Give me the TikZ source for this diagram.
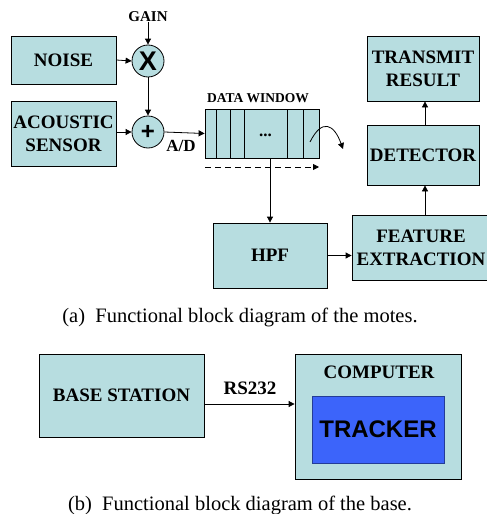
\documentclass[tikz,border=0pt]{standalone}
\usepackage{fontspec}
\setmainfont{Liberation Serif}
\newfontfamily\arialfont{Liberation Sans}
\usetikzlibrary{arrows.meta}
\definecolor{boxfill}{RGB}{183,221,224}
\definecolor{trackfill}{RGB}{60,100,250}
\tikzset{
  blk/.style={draw=black, line width=0.8pt, fill=boxfill, align=center, inner sep=0pt,
     font=\fontsize{19}{23}\selectfont\bfseries},
  opc/.style={circle, draw=black, line width=0.8pt, fill=boxfill, minimum size=32pt, inner sep=0pt,
     font=\fontsize{27}{27}\selectfont\bfseries\arialfont},
  arr/.style={-{Triangle[length=6pt,width=6pt]}, line width=0.8pt},
  lbl/.style={inner sep=0pt, font=\fontsize{19}{19}\selectfont\bfseries},
  captext/.style={inner sep=0pt, font=\fontsize{20.5}{21}\selectfont}
}
\begin{document}
\begin{tikzpicture}[x=1pt,y=-1pt]
\useasboundingbox (0,0) rectangle (487,514);
% part (a)
\node[blk, minimum width=105pt, minimum height=48pt] (noise) at (63.5,60) {NOISE};
\node[blk, minimum width=105pt, minimum height=65pt] (sensor) at (63.5,133.5) {ACOUSTIC\\SENSOR};
\node[opc] (mul) at (148,61) {X};
\node[opc, font=\fontsize{24}{24}\selectfont\bfseries\arialfont] (add) at (148,132) {+};
\node[lbl, font=\fontsize{15}{15}\selectfont\bfseries] (gain) at (148,17) {GAIN};
\node[draw=black, line width=0.8pt, fill=boxfill, minimum width=114pt, minimum height=49pt, inner sep=0pt] (win) at (262,133.5) {};
\foreach \xx in {216,230,244,287,303} \draw[line width=0.8pt] (\xx,109) -- (\xx,158);
\node[inner sep=0pt, font=\fontsize{17}{17}\selectfont\bfseries] (dots) at (265.5,135) {...};
\node[inner sep=0pt, font=\fontsize{13.5}{14}\selectfont\bfseries] (dwl) at (258,98) {DATA WINDOW};
\node[lbl, font=\fontsize{17}{17}\selectfont\bfseries] (ad) at (181,146) {A/D};
\coordinate (dstart) at (205,167);
\coordinate (dend) at (319,167);
\coordinate (cstart) at (310,142);
\coordinate (cend) at (343,149);
\node[blk, minimum width=114pt, minimum height=65pt] (hpf) at (270,255.5) {HPF};
\node[blk, minimum width=138pt, minimum height=65pt] (feat) at (421,247.5) {FEATURE\\EXTRACTION};
\node[blk, minimum width=112pt, minimum height=60pt] (det) at (423,155) {DETECTOR};
\node[blk, minimum width=112pt, minimum height=65pt] (tx) at (423,68.5) {TRANSMIT\\RESULT};
\draw[arr] (gain.south) -- (mul.north);
\draw[arr] (noise.east) -- (mul.west);
\draw[arr] (mul.south) -- (add.north);
\draw[arr] (sensor.east |- add.west) -- (add.west);
\draw[arr] (add.east) -- (win.west);
\draw[arr, dash pattern=on 6pt off 4pt] (dstart) -- (dend);
\draw[arr] (cstart) .. controls (322,118) and (334,124) .. (cend);
\draw[arr] (win.south -| 270,0) -- (hpf.north -| 270,0);
\draw[arr] (feat.north -| 425,0) -- (det.south -| 425,0);
\draw[arr] (det.north -| 425,0) -- (tx.south -| 425,0);
\draw[arr] (hpf.east) -- (feat.west |- hpf.east);
\node[captext] (capa) at (240,317) {(a)\ \ Functional block diagram of the motes.};
% part (b)
\node[blk, minimum width=165pt, minimum height=83pt] (base) at (121.5,395.5) {BASE STATION};
\node[draw=black, line width=0.8pt, fill=boxfill, minimum width=166pt, minimum height=125pt, inner sep=0pt] (comp) at (378,416.5) {};
\node[lbl] (compl) at (379,372) {COMPUTER};
\node[draw=trackfill!60!black, line width=0.6pt, fill=trackfill, minimum width=132pt, minimum height=67pt, inner sep=0pt,
  font=\fontsize{24}{24}\selectfont\bfseries\arialfont\color{black}] (trk) at (378,429.5) {TRACKER};
\node[lbl] (rs) at (250,388) {RS232};
\coordinate (bout) at ([yshift=-8.5pt]base.east);
\draw[arr] (bout) -- (comp.west |- bout);
\node[captext] (capb) at (240,505) {(b)\ \ Functional block diagram of the base.};
\end{tikzpicture}
\end{document}
